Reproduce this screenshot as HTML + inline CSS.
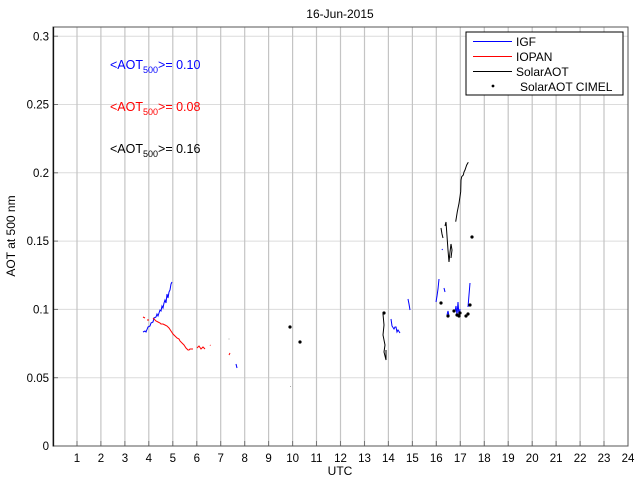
<!DOCTYPE html>
<html>
<head>
<meta charset="utf-8">
<style>
html,body{margin:0;padding:0;background:#fff;}
svg{display:block;}
text{font-family:"Liberation Sans",Arial,sans-serif;}
</style>
</head>
<body>
<svg width="640" height="480" viewBox="0 0 640 480" xmlns="http://www.w3.org/2000/svg">
<rect x="0" y="0" width="640" height="480" fill="#fff"/>
<!-- horizontal grid -->
<g stroke="#dcdcdc" stroke-width="1">
<line x1="53" y1="377.7" x2="628" y2="377.7"/>
<line x1="53" y1="309.4" x2="628" y2="309.4"/>
<line x1="53" y1="241.1" x2="628" y2="241.1"/>
<line x1="53" y1="172.8" x2="628" y2="172.8"/>
<line x1="53" y1="104.5" x2="628" y2="104.5"/>
<line x1="53" y1="36.2" x2="628" y2="36.2"/>
</g>
<!-- vertical grid -->
<g stroke="#c4c4c4" stroke-width="1.2">
<line x1="77" y1="27" x2="77" y2="446"/>
<line x1="100.9" y1="27" x2="100.9" y2="446"/>
<line x1="124.9" y1="27" x2="124.9" y2="446"/>
<line x1="148.8" y1="27" x2="148.8" y2="446"/>
<line x1="172.8" y1="27" x2="172.8" y2="446"/>
<line x1="196.8" y1="27" x2="196.8" y2="446"/>
<line x1="220.7" y1="27" x2="220.7" y2="446"/>
<line x1="244.7" y1="27" x2="244.7" y2="446"/>
<line x1="268.6" y1="27" x2="268.6" y2="446"/>
<line x1="292.6" y1="27" x2="292.6" y2="446"/>
<line x1="316.5" y1="27" x2="316.5" y2="446"/>
<line x1="340.5" y1="27" x2="340.5" y2="446"/>
<line x1="364.5" y1="27" x2="364.5" y2="446"/>
<line x1="388.4" y1="27" x2="388.4" y2="446"/>
<line x1="412.4" y1="27" x2="412.4" y2="446"/>
<line x1="436.3" y1="27" x2="436.3" y2="446"/>
<line x1="460.3" y1="27" x2="460.3" y2="446"/>
<line x1="484.3" y1="27" x2="484.3" y2="446"/>
<line x1="508.2" y1="27" x2="508.2" y2="446"/>
<line x1="532.2" y1="27" x2="532.2" y2="446"/>
<line x1="556.1" y1="27" x2="556.1" y2="446"/>
<line x1="580.1" y1="27" x2="580.1" y2="446"/>
<line x1="604" y1="27" x2="604" y2="446"/>
</g>
<!-- ticks bottom -->
<g stroke="#777" stroke-width="1">
<line x1="77" y1="446" x2="77" y2="441"/><line x1="100.9" y1="446" x2="100.9" y2="441"/><line x1="124.9" y1="446" x2="124.9" y2="441"/><line x1="148.8" y1="446" x2="148.8" y2="441"/><line x1="172.8" y1="446" x2="172.8" y2="441"/><line x1="196.8" y1="446" x2="196.8" y2="441"/><line x1="220.7" y1="446" x2="220.7" y2="441"/><line x1="244.7" y1="446" x2="244.7" y2="441"/><line x1="268.6" y1="446" x2="268.6" y2="441"/><line x1="292.6" y1="446" x2="292.6" y2="441"/><line x1="316.5" y1="446" x2="316.5" y2="441"/><line x1="340.5" y1="446" x2="340.5" y2="441"/><line x1="364.5" y1="446" x2="364.5" y2="441"/><line x1="388.4" y1="446" x2="388.4" y2="441"/><line x1="412.4" y1="446" x2="412.4" y2="441"/><line x1="436.3" y1="446" x2="436.3" y2="441"/><line x1="460.3" y1="446" x2="460.3" y2="441"/><line x1="484.3" y1="446" x2="484.3" y2="441"/><line x1="508.2" y1="446" x2="508.2" y2="441"/><line x1="532.2" y1="446" x2="532.2" y2="441"/><line x1="556.1" y1="446" x2="556.1" y2="441"/><line x1="580.1" y1="446" x2="580.1" y2="441"/><line x1="604" y1="446" x2="604" y2="441"/>
<line x1="53" y1="377.7" x2="58" y2="377.7"/><line x1="53" y1="309.4" x2="58" y2="309.4"/><line x1="53" y1="241.1" x2="58" y2="241.1"/><line x1="53" y1="172.8" x2="58" y2="172.8"/><line x1="53" y1="104.5" x2="58" y2="104.5"/><line x1="53" y1="36.2" x2="58" y2="36.2"/>
</g>
<!-- frame -->
<rect x="53" y="27" width="575" height="419" fill="none" stroke="#555" stroke-width="1"/>
<line x1="53.5" y1="27" x2="53.5" y2="446.5" stroke="#111" stroke-width="1.3"/>

<!-- data: IGF blue -->
<g fill="none" stroke="#0000ff" stroke-width="1">
<polyline points="143,332 145,331 146,332 148,327 150,326 151,323 153,322 154,318 156,317 157,314 158,316 160,310 161,311 162,306 163,308 164,303 165,300 166,303 167,294 168,298 169,292 170,290 171,284 172,282"/>
<polyline points="236,364 237,368"/>
<polyline points="391,319 392,326 394,329 395,327 396,327 397,332 398,330 400,333"/>
<polyline points="408,299 409,304 410,310"/>
<polyline points="436,302 437,296 438,289 439,279"/>
<polyline points="444,288 445,292"/>
<polyline points="447,315 448,311 449,316"/>
<polyline points="455,312 456,306 457,315 458,302 459,316 460,309"/>
<polyline points="468,307 469,295 470,283"/>
<polyline points="442,249 442.5,250"/>
</g>
<!-- IOPAN red -->
<g fill="none" stroke="#ff0000" stroke-width="1">
<polyline points="143,317 145,318"/>
<polyline points="147,320 149,320"/>
<polyline points="153,318 156,321 158,322 160,323 161,324 163,324 165,325 167,326 169,328 171,331 173,334 175,336 177,338 179,339 180,341 182,343 184,345 186,348 188,350 189,350 190,349 193,349"/>
<polyline points="197,348 199,346 201,349 202,348 203,347 205,349"/>
<polyline points="210,345 210.5,345.5"/>
<polyline points="229,355 230,353"/>
</g>
<!-- SolarAOT black line -->
<g fill="none" stroke="#000" stroke-width="1">
<polyline points="383,314 384,325 383,335 385,345 384,352 386,360 386,350"/>
<polyline points="441,228 442,234 443,238"/>
<polyline points="445,226 446,222 447,236 448,250 449,262 450,252 451,244 452,250 451,258"/>
<polyline points="455.7,221.7 457.3,211.7 459,203.3 460.7,191.7 461,180 461.7,176.7 463.3,175 464,172 465,170 466,167 466.7,165 468.3,162.3"/>
</g>
<!-- gray tiny -->
<rect x="228.5" y="338.5" width="1" height="1" fill="#aaa"/>
<rect x="290" y="386" width="1" height="1" fill="#aaa"/>
<!-- CIMEL dots -->
<g fill="#000">
<circle cx="290" cy="327" r="1.6"/>
<circle cx="300" cy="342" r="1.6"/>
<circle cx="384" cy="313" r="1.6"/>
<circle cx="441" cy="303" r="1.6"/>
<circle cx="448" cy="316" r="1.6"/>
<circle cx="454" cy="311" r="1.6"/>
<circle cx="457" cy="315" r="1.6"/>
<circle cx="459" cy="316" r="1.6"/>
<circle cx="460" cy="313" r="1.6"/>
<circle cx="466" cy="316" r="1.6"/>
<circle cx="468" cy="314" r="1.6"/>
<circle cx="470" cy="305" r="1.6"/>
<circle cx="472" cy="237" r="1.6"/>
</g>

<!-- annotations -->
<text x="110" y="69" font-size="12.5" fill="#0000ff">&lt;AOT<tspan font-size="9" dy="4">500</tspan><tspan dy="-4">&gt;= 0.10</tspan></text>
<text x="110" y="111" font-size="12.5" fill="#ff0000">&lt;AOT<tspan font-size="9" dy="4">500</tspan><tspan dy="-4">&gt;= 0.08</tspan></text>
<text x="110" y="153" font-size="12.5" fill="#000">&lt;AOT<tspan font-size="9" dy="4">500</tspan><tspan dy="-4">&gt;= 0.16</tspan></text>

<!-- legend -->
<rect x="466" y="32" width="157" height="63" fill="#fff" stroke="#000" stroke-width="1"/>
<line x1="473" y1="41.5" x2="512" y2="41.5" stroke="#0000ff" stroke-width="1"/>
<line x1="473" y1="56.5" x2="512" y2="56.5" stroke="#ff0000" stroke-width="1"/>
<line x1="473" y1="71.5" x2="512" y2="71.5" stroke="#000" stroke-width="1"/>
<circle cx="493" cy="86" r="1.4" fill="#000"/>
<g font-size="12" fill="#000">
<text x="516" y="46">IGF</text>
<text x="516" y="61">IOPAN</text>
<text x="516" y="76">SolarAOT</text>
<text x="520" y="91">SolarAOT CIMEL</text>
</g>

<!-- y tick labels -->
<g font-size="11.5" fill="#000" text-anchor="end">
<text x="49" y="450">0</text>
<text x="49" y="382">0.05</text>
<text x="49" y="313.5">0.1</text>
<text x="49" y="245">0.15</text>
<text x="49" y="177">0.2</text>
<text x="49" y="108.5">0.25</text>
<text x="49" y="40.5">0.3</text>
</g>
<!-- x tick labels -->
<g font-size="11.5" fill="#000" text-anchor="middle">
<text x="77" y="462">1</text><text x="100.9" y="462">2</text><text x="124.9" y="462">3</text><text x="148.8" y="462">4</text><text x="172.8" y="462">5</text><text x="196.8" y="462">6</text><text x="220.7" y="462">7</text><text x="244.7" y="462">8</text><text x="268.6" y="462">9</text><text x="292.6" y="462">10</text><text x="316.5" y="462">11</text><text x="340.5" y="462">12</text><text x="364.5" y="462">13</text><text x="388.4" y="462">14</text><text x="412.4" y="462">15</text><text x="436.3" y="462">16</text><text x="460.3" y="462">17</text><text x="484.3" y="462">18</text><text x="508.2" y="462">19</text><text x="532.2" y="462">20</text><text x="556.1" y="462">21</text><text x="580.1" y="462">22</text><text x="604" y="462">23</text><text x="628" y="462">24</text>
</g>
<text x="340" y="475" font-size="12" text-anchor="middle" fill="#000">UTC</text>
<text x="340" y="18" font-size="12" text-anchor="middle" fill="#000">16-Jun-2015</text>
<text transform="translate(15,236) rotate(-90)" font-size="12" text-anchor="middle" fill="#000">AOT at 500 nm</text>
</svg>
</body>
</html>
